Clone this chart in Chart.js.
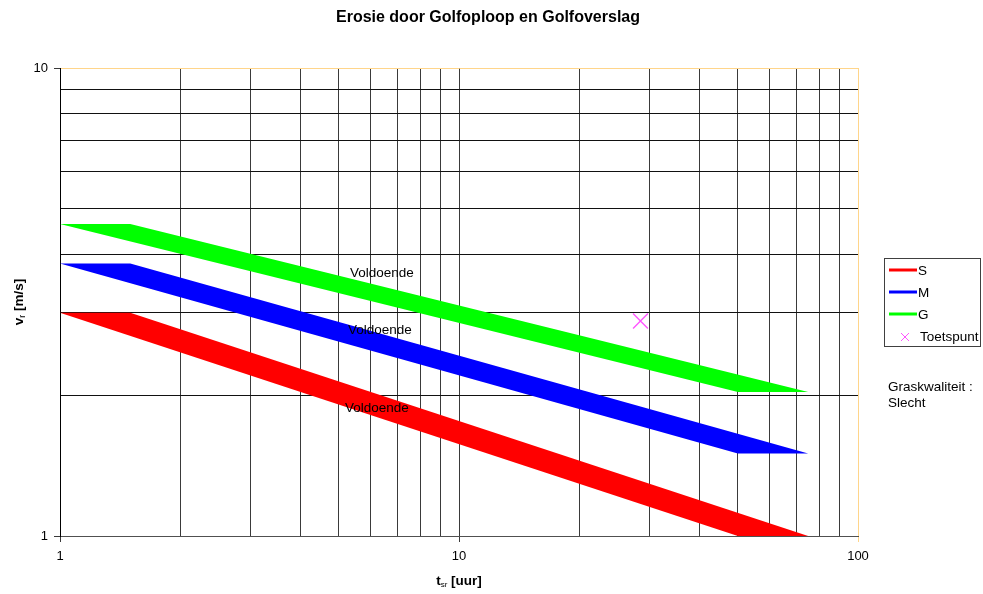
<!DOCTYPE html>
<html><head><meta charset="utf-8">
<script src="https://cdn.jsdelivr.net/npm/chart.js@4/dist/chart.umd.min.js"></script>
<style>html,body{margin:0;padding:0;background:#fff;}</style>
</head><body>
<canvas id="c" width="983" height="594"></canvas>
<script>
const chartTitle = 'Erosie door Golfoploop en Golfoverslag';
const xTicks = [1,2,3,4,5,6,7,8,9,10,20,30,40,50,60,70,80,90,100];
const yTicks = [1,2,3,4,5,6,7,8,9,10];
const xLabelTicks = [1,10,100];
const yLabelTicks = [1,10];
const bandNames = ['S','M','G'];
const bandColors = ['#FF0000','#0000FF','#00FF00'];
const tUpper = [1, 1.5, 75];
const tLower = [1, 50, 75];
const sUpper = [3.0, 3.0, 1.0];
const sLower = [3.0, 1.0, 1.0];
const mUpper = [3.82, 3.82, 1.5];
const mLower = [3.82, 1.5, 1.5];
const gUpper = [4.64, 4.64, 2.03];
const gLower = [4.64, 2.03, 2.03];
const toetsName = 'Toetspunt';
const toetsT = [28.5];
const toetsV = [2.88];
const labelText = ['Voldoende','Voldoende','Voldoende'];
const labelT = [5.33, 5.27, 5.18];
const labelV = [3.65, 2.755, 1.877];
const noteLines = ['Graskwaliteit :', 'Slecht'];

const FONT = "'Liberation Sans', Arial, sans-serif";
const TOETS_COLOR = '#FF55FF';
const pts = (xs, ys) => xs.map((x, i) => ({x: x, y: ys[i]}));
const uppers = [sUpper, mUpper, gUpper];
const lowers = [sLower, mLower, gLower];

const datasets = [];
bandNames.forEach((name, i) => {
  datasets.push({label: name, data: pts(tUpper, uppers[i]), showLine: true, borderWidth: 0,
    borderColor: bandColors[i], backgroundColor: bandColors[i], pointRadius: 0, fill: false, tension: 0});
  datasets.push({label: name + ' onder', data: pts(tLower, lowers[i]), showLine: true, borderWidth: 0,
    borderColor: bandColors[i], backgroundColor: bandColors[i], pointRadius: 0, fill: '-1', tension: 0});
});
datasets.push({label: toetsName, data: pts(toetsT, toetsV), showLine: false, pointStyle: 'crossRot',
  pointRadius: 10.5, pointHoverRadius: 10.5, borderColor: TOETS_COLOR, backgroundColor: TOETS_COLOR, borderWidth: 1.4});

const extras = {
  id: 'extras',
  afterDatasetsDraw(chart) {
    const ctx = chart.ctx, xs = chart.scales.x, ys = chart.scales.y;
    ctx.save();
    ctx.font = '13.5px ' + FONT;
    ctx.fillStyle = '#000';
    ctx.textAlign = 'left';
    ctx.textBaseline = 'middle';
    labelText.forEach((t, i) => {
      ctx.fillText(t, xs.getPixelForValue(labelT[i]), ys.getPixelForValue(labelV[i]));
    });
    ctx.restore();
  },
  afterDraw(chart) {
    const ctx = chart.ctx, ca = chart.chartArea;
    ctx.save();
    // title
    ctx.fillStyle = '#000';
    ctx.font = 'bold 16px ' + FONT;
    ctx.textAlign = 'center';
    ctx.textBaseline = 'middle';
    ctx.fillText(chartTitle, 488, 18);
    // legend
    ctx.strokeStyle = '#404040';
    ctx.lineWidth = 1;
    ctx.strokeRect(884.5, 258.5, 96, 88);
    const rowY = [270, 292, 314, 337];
    ctx.font = '13.5px ' + FONT;
    ctx.textBaseline = 'middle';
    ctx.textAlign = 'left';
    bandNames.forEach((n, i) => {
      ctx.strokeStyle = bandColors[i];
      ctx.lineWidth = 3;
      ctx.beginPath(); ctx.moveTo(889, rowY[i]); ctx.lineTo(917, rowY[i]); ctx.stroke();
      ctx.fillStyle = '#000';
      ctx.fillText(n, 918, rowY[i] + 1);
    });
    ctx.strokeStyle = TOETS_COLOR; ctx.lineWidth = 1;
    ctx.beginPath();
    ctx.moveTo(901, rowY[3] - 4); ctx.lineTo(909, rowY[3] + 4);
    ctx.moveTo(909, rowY[3] - 4); ctx.lineTo(901, rowY[3] + 4);
    ctx.stroke();
    ctx.fillStyle = '#000';
    ctx.fillText(toetsName, 920, rowY[3]);
    // note
    ctx.fillText(noteLines[0], 888, 387);
    ctx.fillText(noteLines[1], 888, 403);
    // axis titles with subscripts
    const drawSub = (parts, cx, cy, rot) => {
      ctx.save();
      ctx.translate(cx, cy);
      ctx.rotate(rot);
      let total = 0;
      parts.forEach(p => { ctx.font = p.f; total += ctx.measureText(p.t).width; });
      let x = -total / 2;
      ctx.textAlign = 'left';
      ctx.textBaseline = 'alphabetic';
      parts.forEach(p => { ctx.font = p.f; ctx.fillText(p.t, x, 5 + p.dy); x += ctx.measureText(p.t).width; });
      ctx.restore();
    };
    ctx.fillStyle = '#000';
    drawSub([{t: 'v', f: 'bold 13.5px ' + FONT, dy: 0}, {t: 'r', f: '9px ' + FONT, dy: 2}, {t: ' [m/s]', f: 'bold 13.5px ' + FONT, dy: 0}],
      18, (ca.top + ca.bottom) / 2, -Math.PI / 2);
    drawSub([{t: 't', f: 'bold 13.5px ' + FONT, dy: 0}, {t: 'sr', f: '8px ' + FONT, dy: 2}, {t: ' [uur]', f: 'bold 13.5px ' + FONT, dy: 0}],
      (ca.left + ca.right) / 2, 580, 0);
    ctx.restore();
  }
};

new Chart(document.getElementById('c'), {
  type: 'scatter',
  data: {datasets: datasets},
  plugins: [extras],
  options: {
    responsive: false,
    animation: false,
    devicePixelRatio: 1,
    layout: {padding: {left: 0, right: 125, top: 68, bottom: 0}},
    plugins: {
      legend: {display: false},
      tooltip: {enabled: false},
      title: {display: false},
      filler: {propagate: false}
    },
    scales: {
      x: {
        type: 'logarithmic', min: 1, max: 100,
        afterBuildTicks: s => { s.ticks = xTicks.map(v => ({value: v, major: xLabelTicks.includes(v)})); },
        afterFit: s => { s.height = 58; },
        ticks: {autoSkip: false, maxRotation: 0, minRotation: 0, padding: 7, color: '#000',
          font: {family: FONT, size: 13},
          callback: v => xLabelTicks.includes(v) ? String(v) : ''},
        grid: {
          color: c => (c.tick && c.tick.value === 100) ? '#FFD58A' : '#3a3a3a',
          tickColor: c => (c.tick && c.tick.value === 100) ? '#FFD58A' : ((c.tick && xLabelTicks.includes(c.tick.value)) ? '#3a3a3a' : 'rgba(0,0,0,0)'),
          tickLength: 6, lineWidth: 1
        },
        border: {color: '#505050', width: 1}
      },
      y: {
        type: 'logarithmic', min: 1, max: 10,
        afterBuildTicks: s => { s.ticks = yTicks.map(v => ({value: v, major: yLabelTicks.includes(v)})); },
        afterFit: s => { s.width = 60; },
        ticks: {autoSkip: false, padding: 6, color: '#000',
          font: {family: FONT, size: 13},
          callback: v => yLabelTicks.includes(v) ? String(v) : ''},
        grid: {
          color: c => (c.tick && c.tick.value === 10) ? '#FFD58A' : '#111',
          tickColor: c => (c.tick && yLabelTicks.includes(c.tick.value)) ? '#3a3a3a' : 'rgba(0,0,0,0)',
          tickLength: 6, lineWidth: 1
        },
        border: {color: '#000', width: 1}
      }
    }
  }
});
</script>
</body></html>
